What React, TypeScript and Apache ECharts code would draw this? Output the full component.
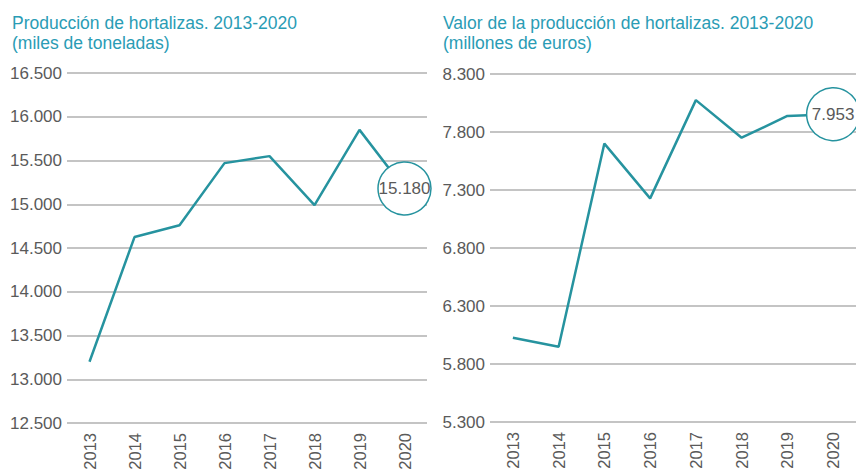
import React, { useEffect, useRef } from "react";
import * as echarts from "echarts";

const years = ["2013", "2014", "2015", "2016", "2017", "2018", "2019", "2020"];
const produccion = [13200, 14625, 14760, 15470, 15550, 14990, 15850, 15180];
const valor = [6027, 5949, 7700, 7228, 8075, 7751, 7938, 7953];

const titleLeft1 = "Producción de hortalizas. 2013-2020";
const titleLeft2 = "(miles de toneladas)";
const titleRight1 = "Valor de la producción de hortalizas. 2013-2020";
const titleRight2 = "(millones de euros)";

const FONT = "'Liberation Sans', Arial, sans-serif";
const TEAL = "#26939f";
const TITLE = "#2a9cb5";
const LABEL = "#5a5a5a";
const GRID = "#b0b0b0";

const fmt = (v: number) => String(v).replace(/\B(?=(\d{3})+(?!\d))/g, ".");

function makeData(vals: number[]) {
  return vals.map((v, i) =>
    i === vals.length - 1
      ? {
          value: v,
          symbol: "circle",
          symbolSize: 53,
          itemStyle: { color: "#ffffff", borderColor: TEAL, borderWidth: 1.5 },
          label: {
            show: true,
            position: "inside",
            formatter: () => fmt(v),
            fontFamily: FONT,
            fontSize: 17,
            color: LABEL,
          },
        }
      : { value: v }
  );
}

function titleText(text: string, x: number, y: number) {
  return {
    type: "text",
    x,
    y,
    silent: true,
    style: {
      text,
      fill: TITLE,
      font: `17.5px ${FONT}`,
      textVerticalAlign: "top",
      textAlign: "left",
    },
  };
}

export default function App() {
  const ref = useRef<HTMLDivElement>(null);
  useEffect(() => {
    if (!ref.current) return;
    const chart = echarts.init(ref.current, null, { renderer: "svg" });
    const yAxisBase = {
      type: "value",
      axisLine: { show: false },
      axisTick: { show: false },
      splitLine: { show: true, lineStyle: { color: GRID, width: 1.5 } },
      axisLabel: {
        fontFamily: FONT,
        fontSize: 17,
        color: LABEL,
        margin: 5,
        formatter: (v: number) => fmt(v),
      },
    };
    const xAxisBase = {
      type: "category",
      data: years,
      boundaryGap: true,
      axisLine: { show: false },
      axisTick: { show: false },
      axisLabel: {
        rotate: 90,
        fontFamily: FONT,
        fontSize: 16.5,
        color: LABEL,
        margin: 10,
        interval: 0,
      },
    };
    chart.setOption({
      animation: false,
      backgroundColor: "#ffffff",
      graphic: [
        titleText(titleLeft1, 12, 14),
        titleText(titleLeft2, 12, 34),
        titleText(titleRight1, 443, 14),
        titleText(titleRight2, 443, 34),
      ],
      grid: [
        { left: 67, top: 73, width: 360, height: 350, outerBoundsMode: "none", containLabel: false },
        { left: 490, top: 74, width: 366, height: 348, outerBoundsMode: "none", containLabel: false },
      ],
      xAxis: [
        { ...xAxisBase, gridIndex: 0 },
        { ...xAxisBase, gridIndex: 1 },
      ],
      yAxis: [
        { ...yAxisBase, gridIndex: 0, min: 12500, max: 16500, interval: 500 },
        { ...yAxisBase, gridIndex: 1, min: 5300, max: 8300, interval: 500 },
      ],
      series: [
        {
          type: "line",
          xAxisIndex: 0,
          yAxisIndex: 0,
          symbol: "none",
          lineStyle: { color: TEAL, width: 2.5 },
          data: makeData(produccion),
          clip: false,
        },
        {
          type: "line",
          xAxisIndex: 1,
          yAxisIndex: 1,
          symbol: "none",
          lineStyle: { color: TEAL, width: 2.5 },
          data: makeData(valor),
          clip: false,
        },
      ],
    });
    return () => chart.dispose();
  }, []);
  return (
    <div
      ref={ref}
      style={{ position: "fixed", left: 0, top: 0, width: 856, height: 473 }}
    />
  );
}
